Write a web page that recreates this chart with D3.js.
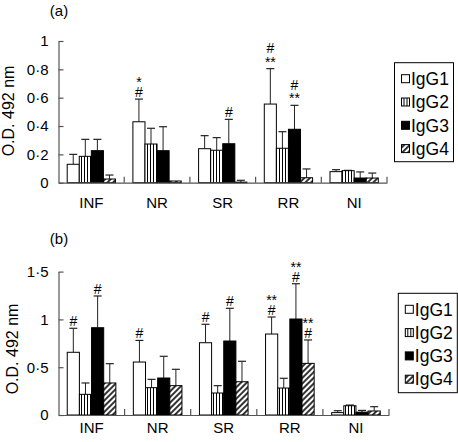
<!DOCTYPE html>
<html><head><meta charset="utf-8">
<script src="https://cdn.jsdelivr.net/npm/d3@7"></script>
<style>body{margin:0;background:#fff} svg text{font-family:"Liberation Sans",Arial,Helvetica,sans-serif;fill:#000}</style>
</head><body><svg id="c" width="458" height="442"></svg>
<script>
// ---------- data ----------
const categories = ["INF","NR","SR","RR","NI"];
const series = ["IgG1","IgG2","IgG3","IgG4"];

// panel (a) means and upper error (SD)
const aIgG1 = [0.13, 0.43, 0.24, 0.555, 0.078];
const aIgG2 = [0.186, 0.273, 0.229, 0.243, 0.085];
const aIgG3 = [0.226, 0.226, 0.275, 0.377, 0.033];
const aIgG4 = [0.026, 0.012, 0.004, 0.035, 0.033];
const aErrIgG1 = [0.07, 0.16, 0.092, 0.25, 0.014];
const aErrIgG2 = [0.12, 0.111, 0.089, 0.117, 0.002];
const aErrIgG3 = [0.08, 0.169, 0.172, 0.169, 0.043];
const aErrIgG4 = [0.028, 0.0, 0.013, 0.062, 0.035];

// panel (b)
const bIgG1 = [0.656, 0.554, 0.756, 0.847, 0.025];
const bIgG2 = [0.216, 0.286, 0.23, 0.282, 0.097];
const bIgG3 = [0.913, 0.387, 0.774, 1.004, 0.03];
const bIgG4 = [0.335, 0.307, 0.348, 0.54, 0.042];
const bErrIgG1 = [0.251, 0.226, 0.193, 0.178, 0.02];
const bErrIgG2 = [0.119, 0.087, 0.077, 0.102, 0.007];
const bErrIgG3 = [0.332, 0.227, 0.342, 0.369, 0.018];
const bErrIgG4 = [0.202, 0.171, 0.214, 0.245, 0.045];

const aTicks = [0, 0.2, 0.4, 0.6, 0.8, 1];
const aTickLabels = ["0","0·2","0·4","0·6","0·8","1"];
const bTicks = [0, 0.5, 1, 1.5];
const bTickLabels = ["0","0·5","1","1·5"];

// significance marks, listed bottom to top
const aMarks = [
  {cat:"NR", s:"IgG1", m:["#","*"]},
  {cat:"SR", s:"IgG3", m:["#"]},
  {cat:"RR", s:"IgG1", m:["**","#"]},
  {cat:"RR", s:"IgG3", m:["**","#"]}
];
const bMarks = [
  {cat:"INF", s:"IgG1", m:["#"]},
  {cat:"INF", s:"IgG3", m:["#"]},
  {cat:"NR", s:"IgG1", m:["#"]},
  {cat:"SR", s:"IgG1", m:["#"]},
  {cat:"SR", s:"IgG3", m:["#"]},
  {cat:"RR", s:"IgG1", m:["#","**"]},
  {cat:"RR", s:"IgG3", m:["#","**"]},
  {cat:"RR", s:"IgG4", m:["#","**"]}
];

const yTitle = "O.D. 492 nm";

// ---------- drawing ----------
const svg = d3.select("#c");
const defs = svg.append("defs");
const vs = defs.append("pattern").attr("id","vs").attr("patternUnits","userSpaceOnUse")
  .attr("width",3).attr("height",4);
vs.append("rect").attr("width",3).attr("height",4).attr("fill","#fff");
vs.append("line").attr("x1",0.5).attr("x2",0.5).attr("y1",0).attr("y2",4)
  .attr("stroke","#000").attr("stroke-width",1);
const dg = defs.append("pattern").attr("id","dg").attr("patternUnits","userSpaceOnUse")
  .attr("width",4).attr("height",4).attr("patternTransform","rotate(45)");
dg.append("rect").attr("width",4).attr("height",4).attr("fill","#fff");
dg.append("line").attr("x1",1).attr("x2",1).attr("y1",0).attr("y2",4)
  .attr("stroke","#000").attr("stroke-width",1.6);

const fills = {IgG1:"#fff", IgG2:"url(#vs)", IgG3:"#000", IgG4:"url(#dg)"};

const panels = [
  {label:"(a)", means:[aIgG1,aIgG2,aIgG3,aIgG4], errs:[aErrIgG1,aErrIgG2,aErrIgG3,aErrIgG4],
   ticks:aTicks, tickLabels:aTickLabels, marks:aMarks, ymax:1,
   x0:58.5, x1:387, y0:182.7, yTop:41, labelY:16, titleX:14, titleY:111, catPad:15,
   leg:{x:394.5, y:62.7, w:59, h:99}},
  {label:"(b)", means:[bIgG1,bIgG2,bIgG3,bIgG4], errs:[bErrIgG1,bErrIgG2,bErrIgG3,bErrIgG4],
   ticks:bTicks, tickLabels:bTickLabels, marks:bMarks, ymax:1.5,
   x0:58.5, x1:389, y0:415, yTop:271.6, labelY:244, titleX:18, titleY:349, catPad:7,
   leg:{x:398.3, y:293.3, w:59, h:99.4}}
];

panels.forEach(p => {
  const g = svg.append("g");
  const x = d3.scaleBand().domain(categories).range([p.x0, p.x1]).padding(0);
  const xs = d3.scaleBand().domain(series).range([0, x.bandwidth()]).paddingInner(0).paddingOuter(0.72);
  const y = d3.scaleLinear().domain([0, p.ymax]).range([p.y0, p.yTop]);

  // bars
  series.forEach((s, si) => {
    categories.forEach((c, ci) => {
      const v = p.means[si][ci], e = p.errs[si][ci];
      const bx = x(c) + xs(s), bw = xs.bandwidth();
      const cx = bx + bw / 2;
      if (e > 0) {
        g.append("line").attr("x1",cx).attr("x2",cx).attr("y1",y(v)).attr("y2",y(v+e))
          .attr("stroke","#222").attr("stroke-width",1);
        g.append("line").attr("x1",cx-4).attr("x2",cx+4).attr("y1",y(v+e)).attr("y2",y(v+e))
          .attr("stroke","#222").attr("stroke-width",1.2);
      }
      g.append("rect").attr("x",bx).attr("y",y(v)).attr("width",bw).attr("height",p.y0 - y(v))
        .attr("fill",fills[s]).attr("stroke","#000").attr("stroke-width",1);
    });
  });

  // significance marks
  p.marks.forEach(mk => {
    const si = series.indexOf(mk.s), ci = categories.indexOf(mk.cat);
    const top = y(p.means[si][ci] + p.errs[si][ci]);
    const cx = x(mk.cat) + xs(mk.s) + xs.bandwidth() / 2;
    let base = top - 2;
    mk.m.forEach((t, k) => {
      if (k > 0) base -= (t[0] === "*") ? 10 : 13.4;
      g.append("text").attr("x",cx).attr("y",base).attr("text-anchor","middle")
        .attr("font-size",14).text(t);
    });
  });

  // y axis
  const ya = d3.axisLeft(y).tickValues(p.ticks).tickFormat((d,i) => p.tickLabels[i])
    .tickSizeInner(-5).tickSizeOuter(0).tickPadding(10);
  const yg = g.append("g").attr("transform",`translate(${p.x0},0)`).call(ya);
  yg.selectAll("path,line").attr("stroke","#555").attr("stroke-width",1.2);
  yg.selectAll("text").attr("font-size",15).attr("font-family","Liberation Sans, Arial, sans-serif");

  // x axis baseline and separators
  const xa = d3.axisBottom(x).tickSize(0).tickPadding(p.catPad);
  const xg = g.append("g").attr("transform",`translate(0,${p.y0})`).call(xa);
  xg.select("path").attr("stroke","#555").attr("stroke-width",1.2);
  xg.selectAll("text").attr("font-size",15).attr("font-family","Liberation Sans, Arial, sans-serif");
  categories.forEach(c => {
    const sx = x(c) + x.bandwidth();
    g.append("line").attr("x1",sx).attr("x2",sx).attr("y1",p.y0).attr("y2",p.y0 - 6)
      .attr("stroke","#555").attr("stroke-width",1.2);
  });

  // y title
  g.append("text").attr("transform",`translate(${p.titleX},${p.titleY}) rotate(-90)`)
    .attr("text-anchor","middle").attr("font-size",16).text(yTitle);

  // panel label
  g.append("text").attr("x",59).attr("y",p.labelY).attr("text-anchor","middle")
    .attr("font-size",15).text(p.label);

  // legend
  const L = p.leg;
  const lg = g.append("g").attr("transform",`translate(${L.x},${L.y})`);
  lg.append("rect").attr("width",L.w).attr("height",L.h).attr("fill","#fff")
    .attr("stroke","#000").attr("stroke-width",1);
  series.forEach((s, i) => {
    const cy = 16 + i * 23.3;
    lg.append("rect").attr("x",7).attr("y",cy - 4).attr("width",8).attr("height",8)
      .attr("fill",fills[s]).attr("stroke","#000").attr("stroke-width",1);
    lg.append("text").attr("x",16.5).attr("y",cy).attr("dy","0.36em")
      .attr("font-size",17.5).text(s);
  });
});
</script></body></html>
